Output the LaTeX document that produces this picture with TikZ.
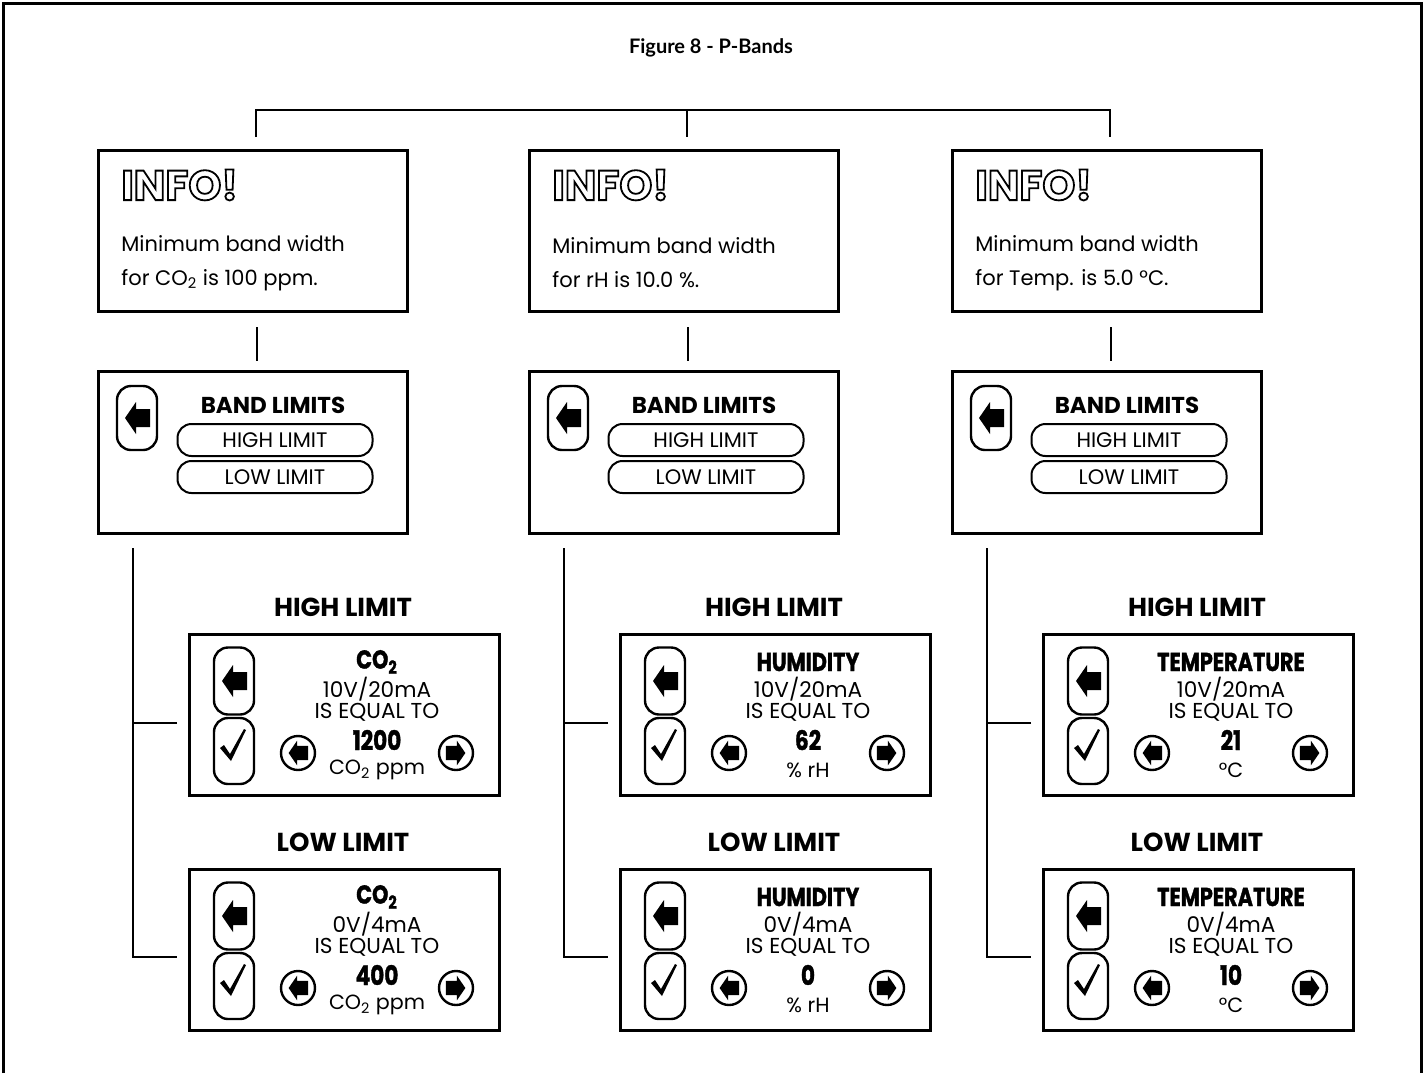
\documentclass[tikz,border=0pt]{standalone}
\usepackage{fontspec}
\setmainfont{Poppins}
\newfontfamily\headfont{Lato}
\newfontfamily\condfont{Poppins}[FakeStretch=0.8, BoldFeatures={FakeBold=1.2}]
\usetikzlibrary{calc,positioning}
\newcommand\hollow[1]{\special{pdf:literal direct 1 Tr 0.9 w}#1\special{pdf:literal direct 0 Tr}}
\tikzset{
  pics/leftarrow/.style={code={
    \fill (-12,0) -- (-1,-16) -- (-1,-9) -- (13,-9) -- (13,9) -- (-1,9) -- (-1,16) -- cycle;
  }},
  pics/tick/.style={code={
    \fill (-14,-3) -- (-3,10) -- (12,-21) -- (10,-22) -- (-4,3) -- (-10,-6) -- cycle;
  }}
}

\begin{document}
\begin{tikzpicture}[
  x=0.5pt,y=-0.5pt,
  conn/.style={line width=1pt},
  panelbox/.style={draw=black, line width=1.5pt, fill=white, anchor=north west,
                   minimum width=154.5pt, minimum height=80.5pt, inner sep=0pt},
  btn/.style={draw=black, line width=1.2pt, rounded corners=7pt,
              minimum width=20pt, minimum height=33pt, inner sep=0pt},
  roundbtn/.style={draw=black, line width=1.2pt, circle, minimum size=17pt, inner sep=0pt},
  pill/.style={draw=black, line width=1pt, rounded corners=7pt, minimum width=97.5pt,
               minimum height=16pt, inner sep=0pt, font=\fontsize{10.5}{11}\selectfont},
  bodytext/.style={font=\fontsize{10.5}{17}\selectfont, align=left, inner sep=0pt, anchor=west},
  infotitle/.style={font=\fontsize{21}{24}\selectfont\bfseries, inner sep=0pt, anchor=west},
  bandtitle/.style={font=\fontsize{11.5}{13}\selectfont\bfseries, inner sep=0pt},
  limtitle/.style={font=\fontsize{13}{15}\selectfont\bfseries, inner sep=0pt},
  cond/.style={font=\condfont\fontsize{13}{15}\selectfont\bfseries, inner sep=0pt},
  plain/.style={font=\fontsize{10.8}{12}\selectfont, inner sep=0pt}
]
  \useasboundingbox (0,0) rectangle (1425,1073);
  % outer frame, open at the bottom
  \draw[line width=1.5pt] (3,1073) -- (3,3) -- (1421,3) -- (1421,1073);

  \node[font=\headfont\bfseries\fontsize{10}{12}\selectfont] (title) at (711,48) {Figure 8 - P-Bands};

  \foreach \c/\dx/\quant/\minw/\hv/\lv/\unt in {
      1/0/{CO\textsubscript{2}}/{for CO\textsubscript{2} is 100 ppm.}/1200/400/{CO\textsubscript{2} ppm},
      2/431/HUMIDITY/{for rH is 10.0 \%.}/62/0/{\% rH},
      3/854/TEMPERATURE/{for Temp. is 5.0 °C.}/21/10/°C} {
    % info panel
    \node[panelbox] (info\c) at (97+\dx,149) {};
    \node[infotitle] (infot\c) at (121+\dx,185) {\hollow{INFO!}};
    \node[bodytext] (infotx\c) at (121+\dx,263) {Minimum band width\\\minw};

    % band limits menu
    \node[panelbox, minimum height=81pt] (band\c) at (97+\dx,370) {};
    \node[btn, minimum height=32pt] (bback\c) at (137+\dx,418) {};
    \pic at (bback\c) {leftarrow};
    \node[bandtitle] (btitle\c) at (273+\dx,405) {BAND LIMITS};
    \node[pill] (bhigh\c) at (275+\dx,440) {HIGH LIMIT};
    \node[pill] (blow\c) at (275+\dx,477) {LOW LIMIT};

    \draw[conn] ($(info\c.south)+(4,14)$) -- ($(band\c.north)+(4,-9)$);

    % high and low limit screens
    \foreach \r/\yy/\volt/\val/\head in {hi/633/{10V/20mA}/\hv/HIGH LIMIT, lo/868/{0V/4mA}/\lv/LOW LIMIT} {
      \node[limtitle] (\r-t\c) at (343+\dx,\yy-26) {\head};
      \node[panelbox, minimum width=155pt] (\r\c) at (188+\dx,\yy) {};
      \node[btn, minimum height=33.5pt] (\r-back\c) at (234+\dx,\yy+48) {};
      \pic at (\r-back\c) {leftarrow};
      \node[btn, minimum height=33pt] (\r-ok\c) at (234+\dx,\yy+118) {};
      \pic at (\r-ok\c) {tick};
      \node[cond] (\r-q\c) at (377+\dx,\yy+29) {\quant};
      \node[plain] (\r-v\c) at (377+\dx,\yy+56) {\volt};
      \node[plain] (\r-e\c) at (377+\dx,\yy+79) {IS EQUAL TO};
      \node[cond, font=\condfont\fontsize{13.5}{15}\selectfont\bfseries] (\r-n\c) at (377+\dx,\yy+107) {\val};
      \node[plain, font=\fontsize{10.3}{12}\selectfont] (\r-u\c) at (377+\dx,\yy+137) {\unt};
      \node[roundbtn] (\r-dn\c) at (298+\dx,\yy+120) {};
      \pic[scale=0.78] at (\r-dn\c) {leftarrow};
      \node[roundbtn] (\r-up\c) at (456+\dx,\yy+120) {};
      \pic[xscale=-0.78, yscale=0.78] at (\r-up\c) {leftarrow};
    }

    % tree from the menu to the two screens
    \draw[conn] ($(band\c.south west)+(36,13)$) |- ($(lo\c.north west)+(-11,89)$);
    \draw[conn] ($(hi\c.north west)+(-11,90)$) -- ($(hi\c.north west)+(-55,90)$);
  }

  % top bracket
  \coordinate (bar) at ($(info2.north)+(3,-39)$);
  \draw[conn] ($(info1.north)+(3,-12)$) |- (bar) -| ($(info3.north)+(3,-12)$);
  \draw[conn] (bar) -- ($(info2.north)+(3,-12)$);
\end{tikzpicture}
\end{document}
